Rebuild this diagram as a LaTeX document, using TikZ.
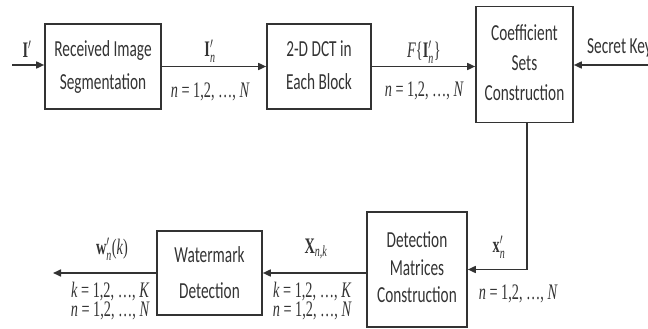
\documentclass[tikz,border=0pt]{standalone}
\usepackage{amsmath}
\usepackage[no-math]{fontspec}
\setmainfont{Carlito}
\newfontfamily\lsf{Liberation Serif}
\usepackage{graphicx}
\usetikzlibrary{arrows.meta}
\definecolor{linec}{HTML}{333333}
\definecolor{txtc}{HTML}{333333}
\newcommand\ystr[2][1.5]{\scalebox{1}[#1]{#2}}
\newcommand\btext[2][20]{\ystr{\fontsize{15.3}{#1}\selectfont\begin{tabular}{@{}c@{}}#2\end{tabular}}}
\newcommand\mtext[1]{\ystr[1.55]{\fontsize{14.3}{16}\selectfont\lsf #1}}
\newcommand\tv[1]{\text{\itshape #1}}
\newcommand\lsv[1]{{\itshape #1}}
\newcommand\nline[2]{\lsv{#1} = 1,2, \ldots, \lsv{#2}}
\begin{document}
\begin{tikzpicture}[x=1pt,y=-1pt,
  blk/.style={draw=linec,line width=1.6pt,inner sep=0pt,text=txtc},
  conn/.style={draw=linec,line width=1.6pt,-{Triangle[length=8pt,width=7pt]}},
  lbl/.style={inner sep=0pt,text=txtc}]
\useasboundingbox (0,0) rectangle (648,329);
% blocks
\node[blk,minimum width=116pt,minimum height=85pt] (seg) at (103,66.5) {\btext[22]{Received Image\\Segmentation}};
\node[blk,minimum width=104pt,minimum height=85pt] (dct) at (319,66.5) {\btext[22]{2-D DCT in\\Each Block}};
\node[blk,minimum width=97pt,minimum height=116pt] (coef) at (524.5,64.5) {\btext[20]{Coefficient\\Sets\\Construction}};
\node[blk,minimum width=100pt,minimum height=115pt] (detm) at (417,269.5) {\btext[18.5]{Detection\\Matrices\\Construction}};
\node[blk,minimum width=105pt,minimum height=84pt] (wmd) at (209.5,273) {\btext[24]{Watermark\\Detection}};
% free ends
\coordinate (in) at (12,65);
\coordinate (sk) at (648,65);
\coordinate (out) at (53,273);
% connectors
\draw[conn] (in) -- (in -| seg.west);
\draw[conn] (seg.east) -- (dct.west);
\draw[conn] (dct.east) -- (dct.east -| coef.west);
\draw[conn] (sk) -- (sk -| coef.east);
\draw[conn] ([xshift=2.5pt]coef.south) |- (detm.east);
\draw[conn] (wmd.east -| detm.west) -- (wmd.east);
\draw[conn] (wmd.west) -- (out);
% labels
\node[lbl] (lI) at (27,49) {\mtext{\textbf{I}$'$}};
\node[lbl] (lIn) at (210,51) {\mtext{\textbf{I}$'_{\tv{n}}$}};
\node[lbl] (lN1) at (210,92) {\mtext{\nline{n}{N}}};
\node[lbl] (lF) at (424,52) {\mtext{\lsv{F}\{\textbf{I}$'_{\tv{n}}$\}}};
\node[lbl] (lN2) at (424,91) {\mtext{\nline{n}{N}}};
\node[lbl,anchor=west] (lsk) at (587,48) {\ystr{\fontsize{15.3}{18}\selectfont Secret Key}};
\node[lbl] (lx) at (499,247) {\mtext{\textbf{x}$'_{\tv{n}}$}};
\node[lbl] (lN3) at (518,294) {\mtext{\nline{n}{N}}};
\node[lbl] (lX) at (316,249) {\mtext{\textbf{X}$_{\tv{n,k}}$}};
\node[lbl] (lK4) at (312,292) {\mtext{\nline{k}{K}}};
\node[lbl] (lN4) at (312,311) {\mtext{\nline{n}{N}}};
\node[lbl] (lw) at (112,249) {\mtext{\textbf{w}$'_{\tv{n}}$(\lsv{k})}};
\node[lbl] (lK5) at (110,292) {\mtext{\nline{k}{K}}};
\node[lbl] (lN5) at (110,311) {\mtext{\nline{n}{N}}};
\end{tikzpicture}
\end{document}
